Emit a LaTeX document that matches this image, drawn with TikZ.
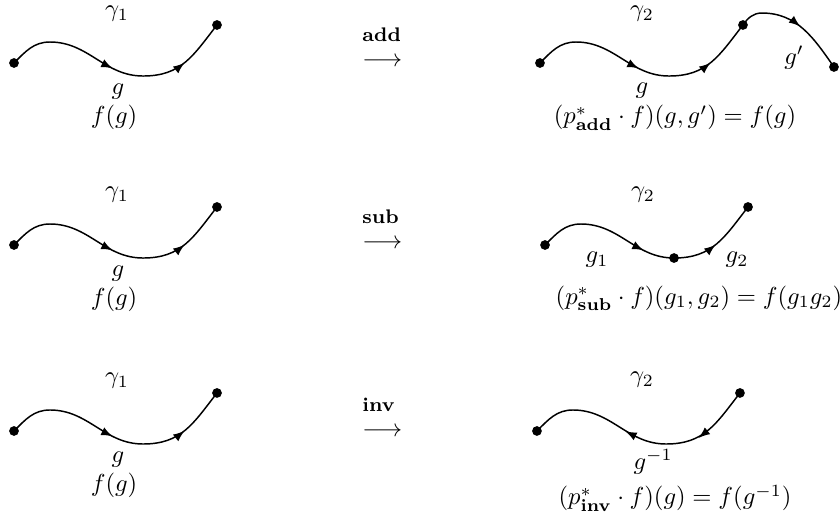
\documentclass[tikz,border=0pt]{standalone}
\usetikzlibrary{decorations.markings,arrows}

\begin{document}
\begin{tikzpicture}[
		every node/.style={inner sep=1pt},
		dot/.style={circle, fill, inner sep=1.4pt},
		curve/.style={semithick},
		twoarrows/.style={postaction={decorate}, decoration={markings,
			mark=at position 0.47 with {\arrow{latex}},
			mark=at position 0.79 with {\arrow{latex}}}},
		backarrows/.style={postaction={decorate}, decoration={markings,
			mark=at position 0.47 with {\arrow{latex reversed}},
			mark=at position 0.79 with {\arrow{latex reversed}}}},
		onearrow/.style={postaction={decorate}, decoration={markings,
			mark=at position 0.55 with {\arrow{latex}}}},
		opmap/.style={anchor=south west, align=left}]
		\useasboundingbox (0,0) rectangle (12,-7.529);

		% row 1, left: the path gamma_1
		\begin{scope}
			\node [dot] (s1) at (0.2,-0.9) {};
			\node [dot] (e1) at (3.1,-0.357) {};
			\draw [curve, twoarrows] (s1.center) to [out=45,in=180] (0.714,-0.6)
				to [out=0,in=180] (2.043,-1.086) to [out=0,in=232,looseness=1.1] (e1.center);
		\end{scope}
		\node (gam1) at (1.671,-0.2) {$\gamma_1$};
		\node (g1) at (1.686,-1.314) {$g$};
		\node (fg1) at (1.629,-1.671) {$f(g)$};

		% add
		\node [opmap] (add) at (5.136,-0.994) {{\footnotesize\bfseries add}\\[-1.7pt]$\longrightarrow$};

		% row 1, right: gamma_2 = gamma_1 followed by g'
		\begin{scope}[shift={(7.514,0)}]
			\node [dot] (as) at (0.2,-0.9) {};
			\node [dot] (am) at (3.1,-0.357) {};
			\node [dot] (ae) at (4.4,-0.957) {};
			\draw [curve, twoarrows] (as.center) to [out=45,in=180] (0.714,-0.6)
				to [out=0,in=180] (2.043,-1.086) to [out=0,in=232,looseness=1.1] (am.center);
			\draw [curve, onearrow] (am.center) to [out=55,in=180] (3.371,-0.186)
				to [out=0,in=125] (ae.center);
		\end{scope}
		\node (gam2a) at (9.171,-0.2) {$\gamma_2$};
		\node (ga) at (9.171,-1.3) {$g$};
		\node (gpa) at (11.343,-0.82) {$g'$};
		\node [anchor=base] (fa) at (9.643,-1.771) {$(p^*_{\mathbf{add}}\cdot f)(g,g') = f(g)$};

		% row 2, left
		\begin{scope}[shift={(0,-2.6)}]
			\node [dot] (s2) at (0.2,-0.9) {};
			\node [dot] (e2) at (3.1,-0.357) {};
			\draw [curve, twoarrows] (s2.center) to [out=45,in=180] (0.714,-0.6)
				to [out=0,in=180] (2.043,-1.086) to [out=0,in=232,looseness=1.1] (e2.center);
		\end{scope}
		\node (gam2) at (1.671,-2.786) {$\gamma_1$};
		\node (g2) at (1.686,-3.914) {$g$};
		\node (fg2) at (1.629,-4.271) {$f(g)$};

		% sub
		\node [opmap] (sub) at (5.136,-3.594) {{\footnotesize\bfseries sub}\\[-1.7pt]$\longrightarrow$};

		% row 2, right: gamma_2 split into g_1 and g_2
		\begin{scope}[shift={(7.586,-2.6)}]
			\node [dot] (bs) at (0.2,-0.9) {};
			\node [dot] (bm) at (2.043,-1.086) {};
			\node [dot] (be) at (3.1,-0.357) {};
			\draw [curve, twoarrows] (bs.center) to [out=45,in=180] (0.714,-0.6)
				to [out=0,in=180] (bm.center) to [out=0,in=232,looseness=1.1] (be.center);
		\end{scope}
		\node (gam2b) at (9.186,-2.786) {$\gamma_2$};
		\node (gb1) at (8.529,-3.714) {$g_1$};
		\node (gb2) at (10.529,-3.714) {$g_2$};
		\node [anchor=base] (fb) at (9.986,-4.343) {$(p^*_{\mathbf{sub}}\cdot f)(g_1,g_2) = f(g_1g_2)$};

		% row 3, left
		\begin{scope}[shift={(0,-5.257)}]
			\node [dot] (s3) at (0.2,-0.9) {};
			\node [dot] (e3) at (3.1,-0.357) {};
			\draw [curve, twoarrows] (s3.center) to [out=45,in=180] (0.714,-0.6)
				to [out=0,in=180] (2.043,-1.086) to [out=0,in=232,looseness=1.1] (e3.center);
		\end{scope}
		\node (gam3) at (1.671,-5.443) {$\gamma_1$};
		\node (g3) at (1.686,-6.571) {$g$};
		\node (fg3) at (1.629,-6.929) {$f(g)$};

		% inv
		\node [opmap] (inv) at (5.136,-6.28) {{\footnotesize\bfseries inv}\\[-1.7pt]$\longrightarrow$};

		% row 3, right: the reversed path
		\begin{scope}[shift={(7.471,-5.257)}]
			\node [dot] (cs) at (0.2,-0.9) {};
			\node [dot] (ce) at (3.1,-0.357) {};
			\draw [curve, backarrows] (cs.center) to [out=45,in=180] (0.714,-0.6)
				to [out=0,in=180] (2.043,-1.086) to [out=0,in=232,looseness=1.1] (ce.center);
		\end{scope}
		\node (gam2c) at (9.171,-5.429) {$\gamma_2$};
		\node [anchor=base] (gc) at (9.329,-6.71) {$g^{-1}$};
		\node [anchor=base] (fc) at (9.643,-7.214) {$(p^*_{\mathbf{inv}}\cdot f)(g) = f(g^{-1})$};
	\end{tikzpicture}
\end{document}
